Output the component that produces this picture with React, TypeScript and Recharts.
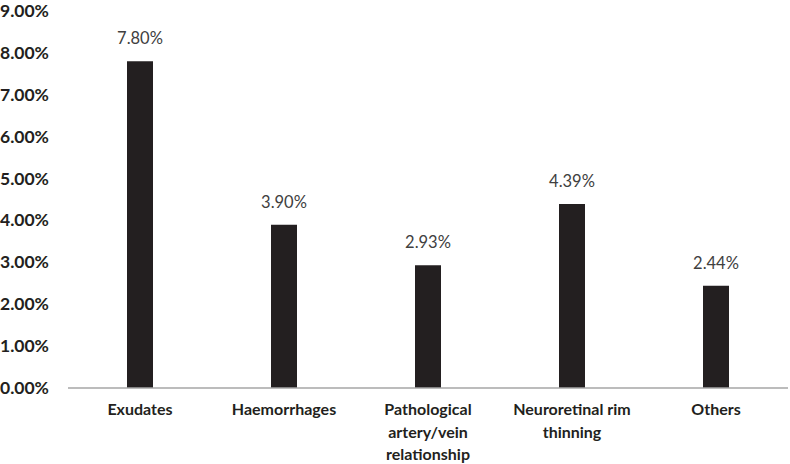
import React from "react";
import { BarChart, Bar, XAxis, YAxis, LabelList, Text } from "recharts";

const categories = [
  "Exudates",
  "Haemorrhages",
  "Pathological artery/vein relationship",
  "Neuroretinal rim thinning",
  "Others",
];
const values = [7.8, 3.9, 2.93, 4.39, 2.44];
const yTicks = [0, 1, 2, 3, 4, 5, 6, 7, 8, 9];

const data = categories.map((c, i) => ({ name: c, value: values[i] }));

const FONT = "Lato, 'Open Sans', sans-serif";

const YTick = (props: any) => {
  const { y, payload } = props;
  return (
    <text x={0} y={y} dy={6} textAnchor="start" fontFamily={FONT} fontWeight={700} fontSize={17.5} fill="#231F20">
      {payload.value.toFixed(2) + "%"}
    </text>
  );
};

const XTick = (props: any) => {
  const { x, y, payload } = props;
  return (
    <Text
      x={x}
      y={y + 8}
      width={135}
      textAnchor="middle"
      verticalAnchor="start"
      lineHeight={22.5}
      fontFamily={FONT}
      fontWeight={700}
      fontSize={16}
      fill="#231F20"
    >
      {payload.value}
    </Text>
  );
};

export default function App() {
  return (
    <div style={{ position: "absolute", left: 0, top: 0, width: 790, height: 464, background: "#fff" }}>
      <BarChart width={790} height={464} data={data} margin={{ top: 11, right: 2, bottom: 0, left: 0 }} barSize={26}>
        <YAxis
          domain={[0, 9]}
          ticks={yTicks}
          width={68}
          axisLine={false}
          tickLine={false}
          tick={<YTick />}
          interval={0}
        />
        <XAxis
          dataKey="name"
          height={76}
          axisLine={{ stroke: "#A6A6A6", strokeWidth: 1.5 }}
          tickLine={false}
          tick={<XTick />}
          interval={0}
        />
        <Bar dataKey="value" fill="#231F20" isAnimationActive={false}>
          <LabelList
            dataKey="value"
            position="top"
            offset={17}
            formatter={(v: any) => Number(v).toFixed(2) + "%"}
            style={{ fontFamily: FONT, fontSize: 16.5, fill: "#404040", fontWeight: 400 }}
          />
        </Bar>
      </BarChart>
    </div>
  );
}
